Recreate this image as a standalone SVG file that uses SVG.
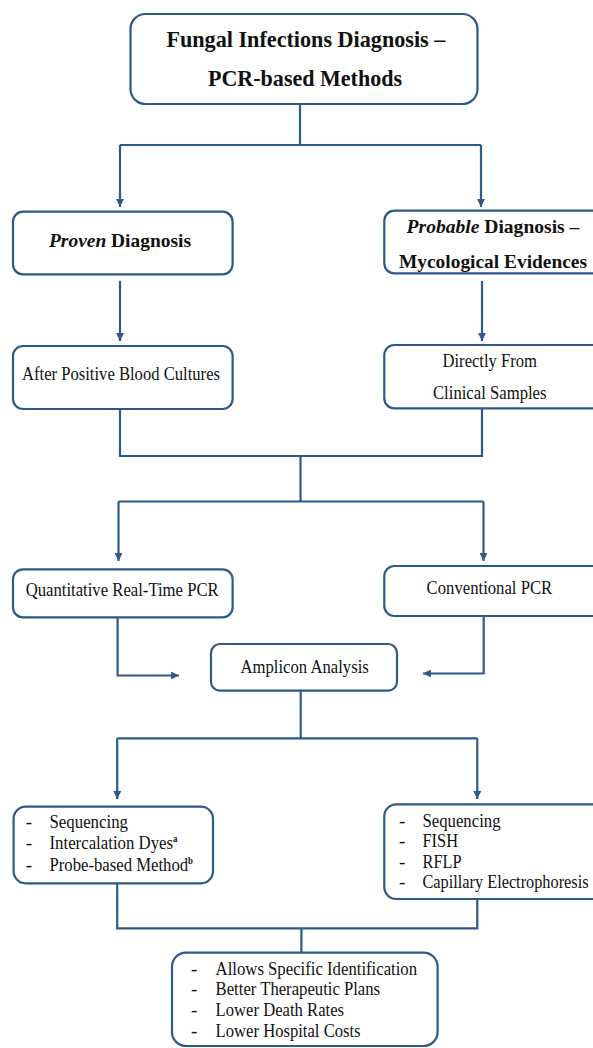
<svg xmlns="http://www.w3.org/2000/svg" width="593" height="1048" viewBox="0 0 593 1048">
<style>
.box{fill:#fff;stroke:#2E5A88;stroke-width:2.2}
.ln{fill:none;stroke:#2E5A88;stroke-width:2.2}
text{font-family:"Liberation Serif","Times New Roman",serif;fill:#111}
.t{font-size:22.5px;font-weight:bold}
.h{font-size:19.5px;font-weight:bold}
.r{font-size:18.5px}
.l{font-size:19px}
.sup{font-size:10px;font-weight:bold}
</style>
<defs>
<marker id="ah" viewBox="0 0 10 10" refX="10" refY="5" markerWidth="3.6" markerHeight="3.6" orient="auto" markerUnits="strokeWidth">
<path d="M0,0 L10,5 L0,10 Z" fill="#2E5A88"/>
</marker>
</defs>
<rect width="593" height="1048" fill="#fff"/>
<g id="connectors">
<path class="ln" d="M300,104 V145 M120,145 H481"/>
<path class="ln" d="M120,145 V207" marker-end="url(#ah)"/>
<path class="ln" d="M481,145 V207" marker-end="url(#ah)"/>
<path class="ln" d="M120,281 V341" marker-end="url(#ah)"/>
<path class="ln" d="M482,281 V341" marker-end="url(#ah)"/>
<path class="ln" d="M120,409 V456 H482 V408 M300.5,456 V501.5 M118.5,501.5 H483.5"/>
<path class="ln" d="M118.5,501.5 V561" marker-end="url(#ah)"/>
<path class="ln" d="M483.5,501.5 V561" marker-end="url(#ah)"/>
<path class="ln" d="M117.6,617 V675.5 H179" marker-end="url(#ah)"/>
<path class="ln" d="M483.7,616 V673.5 H423" marker-end="url(#ah)"/>
<path class="ln" d="M300.7,691 V738.3 M117.2,738.3 H477.3"/>
<path class="ln" d="M117.2,738.3 V799" marker-end="url(#ah)"/>
<path class="ln" d="M477.3,738.3 V799" marker-end="url(#ah)"/>
<path class="ln" d="M117.2,883 V928.3 H477.3 V899 M301.4,928.3 V953"/>
</g>
<g id="n-title">
<rect class="box" x="130.5" y="14" width="347" height="90" rx="15"/>
<text class="t" x="166.4" y="46.7" textLength="279" lengthAdjust="spacingAndGlyphs">Fungal Infections Diagnosis –</text>
<text class="t" x="208" y="86" textLength="194" lengthAdjust="spacingAndGlyphs">PCR-based Methods</text>
</g>
<g id="n-proven">
<rect class="box" x="13" y="211.7" width="219.6" height="62.6" rx="10"/>
<text class="h" x="49" y="247" textLength="142" lengthAdjust="spacingAndGlyphs"><tspan font-style="italic">Proven</tspan> Diagnosis</text>
</g>
<g id="n-probable">
<rect class="box" x="384.3" y="210.7" width="230" height="62.6" rx="10"/>
<text class="h" x="406.6" y="233" textLength="172.8" lengthAdjust="spacingAndGlyphs"><tspan font-style="italic">Probable</tspan> Diagnosis –</text>
<text class="h" x="399" y="268" textLength="188" lengthAdjust="spacingAndGlyphs">Mycological Evidences</text>
</g>
<g id="n-blood">
<rect class="box" x="13" y="346" width="219.6" height="63" rx="10"/>
<text class="r" x="22" y="380" textLength="198" lengthAdjust="spacingAndGlyphs">After Positive Blood Cultures</text>
</g>
<g id="n-clinical">
<rect class="box" x="384.3" y="345" width="230" height="63.3" rx="10"/>
<text class="r" x="442.5" y="366.7" textLength="94.5" lengthAdjust="spacingAndGlyphs">Directly From</text>
<text class="r" x="433" y="399" textLength="113.5" lengthAdjust="spacingAndGlyphs">Clinical Samples</text>
</g>
<g id="n-qpcr">
<rect class="box" x="13" y="569.3" width="219.6" height="48" rx="10"/>
<text class="r" x="25.7" y="596" textLength="193" lengthAdjust="spacingAndGlyphs">Quantitative Real-Time PCR</text>
</g>
<g id="n-cpcr">
<rect class="box" x="384.3" y="566" width="230" height="50" rx="10"/>
<text class="r" x="426.6" y="594" textLength="125.6" lengthAdjust="spacingAndGlyphs">Conventional PCR</text>
</g>
<g id="n-amplicon">
<rect class="box" x="211" y="644" width="186" height="46.7" rx="9"/>
<text class="r" x="240.5" y="672.7" textLength="128.3" lengthAdjust="spacingAndGlyphs">Amplicon Analysis</text>
</g>
<g id="n-left-list">
<rect class="box" x="13.6" y="806.7" width="199.4" height="76.6" rx="12"/>
<text class="l" x="25.7" y="828.3">-</text>
<text class="l" x="25.7" y="849.3">-</text>
<text class="l" x="25.7" y="870.7">-</text>
<text class="l" x="49.5" y="828.3" textLength="78.5" lengthAdjust="spacingAndGlyphs">Sequencing</text>
<text class="l" x="49.5" y="849.3" textLength="128" lengthAdjust="spacingAndGlyphs">Intercalation Dyes<tspan class="sup" dy="-7">a</tspan></text>
<text class="l" x="49.5" y="870.7" textLength="143.5" lengthAdjust="spacingAndGlyphs">Probe-based Method<tspan class="sup" dy="-7">b</tspan></text>
</g>
<g id="n-right-list">
<rect class="box" x="384.3" y="804.3" width="230" height="94.7" rx="12"/>
<text class="l" x="399" y="826.7">-</text>
<text class="l" x="399" y="847.3">-</text>
<text class="l" x="399" y="867.7">-</text>
<text class="l" x="399" y="888.3">-</text>
<text class="l" x="422.5" y="826.7" textLength="78" lengthAdjust="spacingAndGlyphs">Sequencing</text>
<text class="l" x="422.5" y="847.3" textLength="35.5" lengthAdjust="spacingAndGlyphs">FISH</text>
<text class="l" x="422.5" y="867.7" textLength="39" lengthAdjust="spacingAndGlyphs">RFLP</text>
<text class="l" x="422.5" y="888.3" textLength="166" lengthAdjust="spacingAndGlyphs">Capillary Electrophoresis</text>
</g>
<g id="n-outcomes">
<rect class="box" x="172" y="952.7" width="265.6" height="93.3" rx="14"/>
<text class="l" x="191" y="975">-</text>
<text class="l" x="191" y="995.3">-</text>
<text class="l" x="191" y="1016">-</text>
<text class="l" x="191" y="1036.7">-</text>
<text class="l" x="215.6" y="975" textLength="201.5" lengthAdjust="spacingAndGlyphs">Allows Specific Identification</text>
<text class="l" x="215.6" y="995.3" textLength="164.5" lengthAdjust="spacingAndGlyphs">Better Therapeutic Plans</text>
<text class="l" x="215.6" y="1016" textLength="128.5" lengthAdjust="spacingAndGlyphs">Lower Death Rates</text>
<text class="l" x="215.6" y="1036.7" textLength="145" lengthAdjust="spacingAndGlyphs">Lower Hospital Costs</text>
</g>
</svg>
